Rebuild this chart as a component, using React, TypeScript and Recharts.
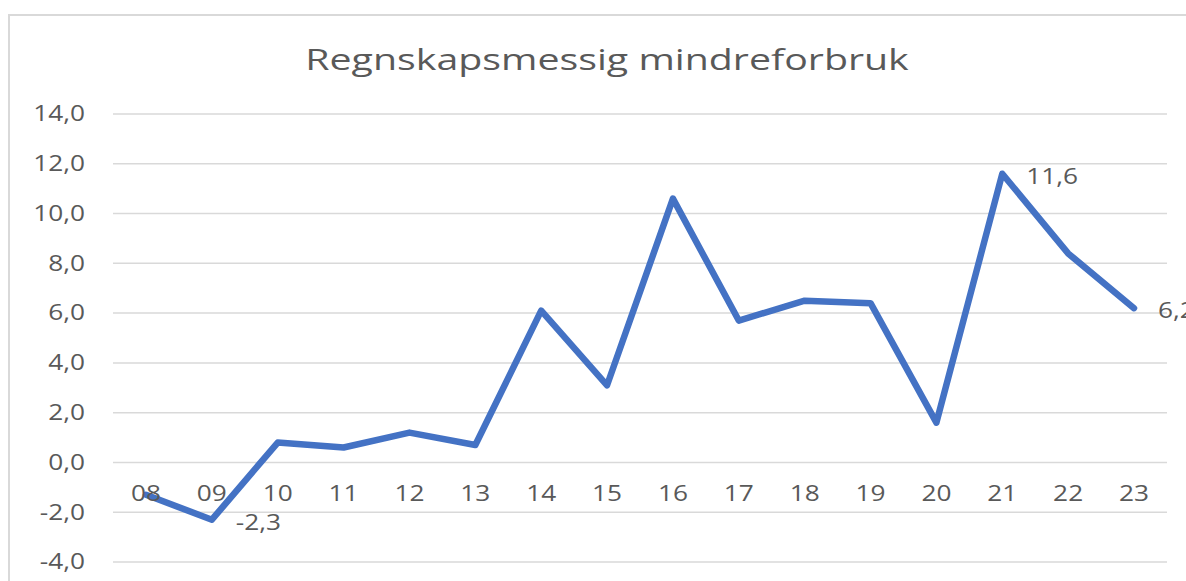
import React from "react";
import { LineChart, Line, XAxis, YAxis, CartesianGrid } from "recharts";

const categories = ["08", "09", "10", "11", "12", "13", "14", "15", "16", "17", "18", "19", "20", "21", "22", "23"];
const values = [-1.3, -2.3, 0.8, 0.6, 1.2, 0.7, 6.1, 3.1, 10.6, 5.7, 6.5, 6.4, 1.6, 11.6, 8.4, 6.2];
const labelledIndexes = [1, 13, 15];
const yTicks = [-4, -2, 0, 2, 4, 6, 8, 10, 12, 14];

const TEXT = "#595959";
const FONT = "'Open Sans', sans-serif";
const STRETCH = 1.25;

const fmt = (v: number) => v.toFixed(1).replace(".", ",");

const data = categories.map((c, i) => ({ year: c, value: values[i] }));

// category labels sit just under the zero line, like the Excel original
const PLOT_BOTTOM = 562;
const LABEL_Y = 493.5;

const XTick = (props: any) => {
  const { x, payload } = props;
  return (
    <g transform={`translate(${x},${LABEL_Y})`}>
      <text transform={`scale(${STRETCH},1)`} textAnchor="middle" dy="0.35em" fill={TEXT} fontSize={21} fontFamily={FONT}>
        {payload.value}
      </text>
    </g>
  );
};

const YTick = (props: any) => {
  const { x, y, payload } = props;
  return (
    <g transform={`translate(${x},${y})`}>
      <text transform={`scale(${STRETCH},1)`} textAnchor="end" dy="0.35em" fill={TEXT} fontSize={21} fontFamily={FONT}>
        {fmt(payload.value)}
      </text>
    </g>
  );
};

const PointLabel = (props: any) => {
  const { x, y, value, index } = props;
  if (!labelledIndexes.includes(index)) return null;
  return (
    <g transform={`translate(${x + 24},${y + 3})`}>
      <text transform={`scale(${STRETCH},1)`} dy="0.35em" fill={TEXT} fontSize={21} fontFamily={FONT}>
        {fmt(value)}
      </text>
    </g>
  );
};

export default function App() {
  return (
    <div style={{ position: "absolute", left: 0, top: 0, width: 1186, height: 581, overflow: "hidden", background: "#fff" }}>
      <div style={{ position: "absolute", left: 8, top: 14, width: 1220, height: 620, border: "2px solid #d9d9d9" }} />
      <div
        style={{
          position: "absolute",
          left: 307,
          width: 600,
          top: 44,
          lineHeight: "30px",
          fontSize: 30,
          fontFamily: FONT,
          color: TEXT,
          textAlign: "center",
          transform: "scaleX(1.31)",
          whiteSpace: "nowrap",
        }}
      >
        Regnskapsmessig mindreforbruk
      </div>
      <div style={{ position: "absolute", left: 0, top: 0 }}>
        <LineChart width={1186} height={581} data={data} margin={{ top: 114, right: 19, bottom: 0, left: 0 }}>
          <CartesianGrid vertical={false} stroke="#d9d9d9" strokeWidth={1.5} />
          <XAxis
            dataKey="year"
            height={581 - PLOT_BOTTOM}
            axisLine={false}
            tickLine={false}
            padding={{ left: 33, right: 33 }}
            interval={0}
            tick={<XTick />}
          />
          <YAxis
            width={113}
            domain={[-4, 14]}
            ticks={yTicks}
            axisLine={false}
            tickLine={false}
            tickSize={0}
            tickMargin={28}
            tick={<YTick />}
          />
          <Line
            type="linear"
            dataKey="value"
            stroke="#4472C4"
            strokeWidth={6.5}
            strokeLinecap="round"
            strokeLinejoin="round"
            dot={false}
            activeDot={false}
            isAnimationActive={false}
            label={<PointLabel />}
          />
        </LineChart>
      </div>
    </div>
  );
}
